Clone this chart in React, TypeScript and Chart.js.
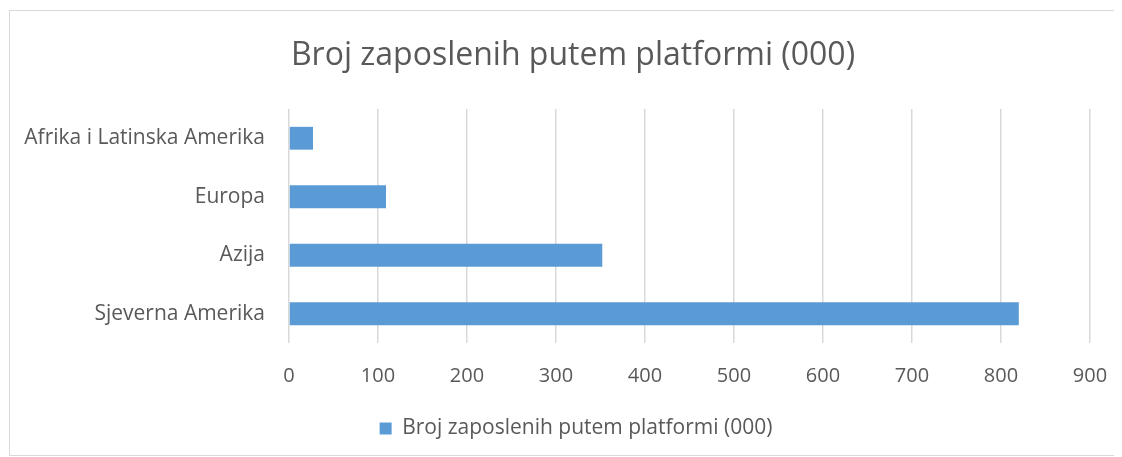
import React, { useEffect, useRef } from "react";
import { Chart, registerables } from "chart.js";

Chart.register(...registerables);

const categories = ["Afrika i Latinska Amerika", "Europa", "Azija", "Sjeverna Amerika"];
const values = [27, 109, 352, 820];
const seriesLabel = "Broj zaposlenih putem platformi (000)";
const titleText = "Broj zaposlenih putem platformi (000)";
const xMin = 0;
const xMax = 900;
const xStep = 100;

const FONT = "'Open Sans', sans-serif";
const TEXT = "#595959";

const blockShift = {
  id: "blockShift",
  afterLayout(chart: any) {
    const t = chart.titleBlock;
    if (t) {
      t.left += 23;
      t.right += 23;
    }
    const l = chart.legend;
    if (l) {
      l.left += 26;
      l.right += 26;
    }
  },
};

export default function App() {
  const ref = useRef<HTMLCanvasElement | null>(null);
  useEffect(() => {
    if (!ref.current) return;
    const chart = new Chart(ref.current, {
      type: "bar",
      data: {
        labels: categories,
        datasets: [
          {
            label: seriesLabel,
            data: values,
            backgroundColor: "#5b9bd5",
            borderWidth: 0,
            barPercentage: 0.39,
            categoryPercentage: 1,
          },
        ],
      },
      plugins: [blockShift],
      options: {
        indexAxis: "y",
        animation: false,
        responsive: false,
        maintainAspectRatio: false,
        layout: { padding: { left: 0, right: 30, top: 0, bottom: 6 } },
        plugins: {
          title: {
            display: true,
            text: titleText,
            color: TEXT,
            font: { family: FONT, size: 32, weight: "normal" },
            padding: { top: 26, bottom: 33.6 },
          },
          legend: {
            display: true,
            position: "bottom",
            labels: {
              color: TEXT,
              font: { family: FONT, size: 21 },
              boxWidth: 12,
              boxHeight: 12,
              padding: 10,
            },
          },
          tooltip: { enabled: false },
        },
        scales: {
          x: {
            min: xMin,
            max: xMax,
            afterFit: (scale: any) => {
              scale.height = 65;
              scale.paddingLeft = 0;
              scale.paddingRight = 0;
            },
            ticks: { stepSize: xStep, color: TEXT, font: { family: FONT, size: 20 }, padding: 21 },
            grid: { color: "#d9d9d9", lineWidth: 1.5, drawTicks: false },
            border: { display: false },
          },
          y: {
            afterFit: (scale: any) => {
              scale.width = 279;
              scale.paddingTop = 0;
              scale.paddingBottom = 0;
            },
            ticks: { color: TEXT, font: { family: FONT, size: 21 }, padding: 24 },
            grid: { display: false, drawTicks: false },
            border: { display: false },
          },
        },
      },
    });
    return () => chart.destroy();
  }, []);
  return (
    <div
      style={{
        marginLeft: 1,
        marginTop: 2,
        width: 1110,
        height: 444,
        border: "1px solid #d9d9d9",
        background: "#fff",
      }}
    >
      <canvas ref={ref} width={1110} height={444} style={{ display: "block" }} />
    </div>
  );
}
